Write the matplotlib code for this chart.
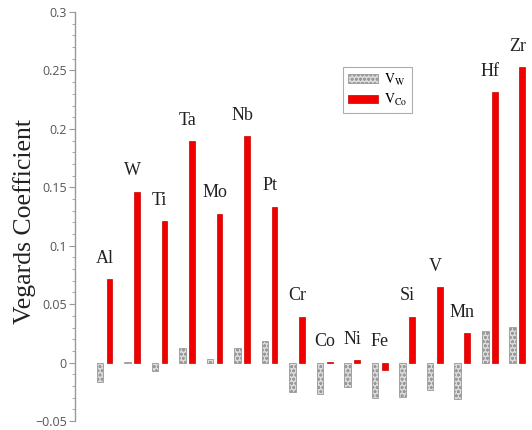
import matplotlib
matplotlib.use("Agg")
import matplotlib.pyplot as plt
from matplotlib.ticker import MultipleLocator, FuncFormatter
import numpy as np

plt.rcParams['mathtext.fontset'] = 'stix'
plt.rcParams['hatch.color'] = '#8a8a8a'
plt.rcParams['hatch.linewidth'] = 0.8

elements = ['Al', 'W', 'Ti', 'Ta', 'Mo', 'Nb', 'Pt', 'Cr', 'Co', 'Ni', 'Fe', 'Si', 'V', 'Mn', 'Hf', 'Zr']
v_w = [-0.017, 0.0005, -0.007, 0.0127, 0.0027, 0.0127, 0.0187, -0.025,
       -0.027, -0.0213, -0.030, -0.0294, -0.0236, -0.0308, 0.0274, 0.0303]
v_co = [0.0715, 0.1463, 0.121, 0.1893, 0.1274, 0.194, 0.1334, 0.0394,
        0.0005, 0.002, -0.0065, 0.0394, 0.0647, 0.0251, 0.2315, 0.253]

fig = plt.figure(figsize=(5.32, 4.30), dpi=100)
ax = fig.add_axes([0.141, 0.021, 0.855, 0.951])

x = np.arange(len(elements))
ax.bar(x - 0.173, v_w, width=0.24, facecolor='#dcdcdc', edgecolor='#9a9a9a',
       hatch='oooo', linewidth=0.6, label=r'$\mathrm{V_{W}}$')
ax.bar(x + 0.173, v_co, width=0.21, facecolor='#f20000', edgecolor='#c80000',
       linewidth=0.5, label=r'$\mathrm{V_{Co}}$')

for i, name in enumerate(elements):
    top = max(0, v_w[i], v_co[i])
    ax.annotate(name, (x[i], top), xytext=(0, 15), textcoords='offset points',
                ha='center', va='center', fontsize=13, family='Liberation Serif',
                color='#222222')

ax.set_xlim(-1.08, 15.45)
ax.set_ylim(-0.05, 0.3)
ax.yaxis.set_major_locator(MultipleLocator(0.05))
ax.yaxis.set_minor_locator(MultipleLocator(0.01))
ax.yaxis.set_major_formatter(FuncFormatter(lambda v, p: '{:g}'.format(round(v, 3)).replace('-', '\u2212')))
ax.tick_params(axis='y', which='major', length=4, width=0.8, color='#999999',
               labelsize=9, labelcolor='#555555', pad=2)
ax.tick_params(axis='y', which='minor', length=2.5, width=0.6, color='#999999')
for lab in ax.get_yticklabels():
    lab.set_family('Open Sans')
ax.set_xticks([])
for s in ['top', 'right', 'bottom']:
    ax.spines[s].set_visible(False)
ax.spines['left'].set_color('#999999')
ax.spines['left'].set_linewidth(1.0)

ax.set_ylabel('Vegards Coefficient', fontsize=18.5, family='Liberation Serif',
              color='#222222')
ax.yaxis.set_label_coords(-0.085, 0.489)

leg = ax.legend(loc='upper left', bbox_to_anchor=(0.589, 0.866), borderaxespad=0,
                fontsize=10, fancybox=False, edgecolor='#999999', handlelength=2.2,
                handleheight=0.6, labelspacing=0.3, borderpad=0.35, handletextpad=0.4)
leg.get_frame().set_linewidth(0.8)

fig.savefig('out.png', dpi=100)
